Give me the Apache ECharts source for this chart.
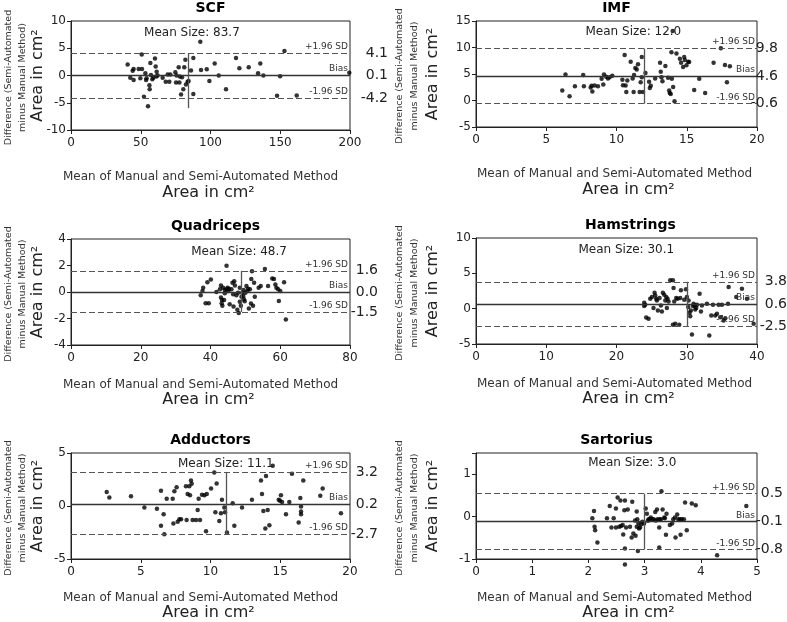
<!DOCTYPE html>
<html>
<head>
<meta charset="utf-8">
<script src="https://cdn.jsdelivr.net/npm/echarts@6/dist/echarts.min.js"></script>
<style>
html, body { margin: 0; padding: 0; background: #fff; }
#main { width: 787px; height: 622px; }
</style>
</head>
<body>
<div id="main"></div>
<script>
var FONT = '"DejaVu Sans", Verdana, sans-serif';

var titles = ['SCF', 'IMF', 'Quadriceps', 'Hamstrings', 'Adductors', 'Sartorius'];
var meanSizes = [83.7, 12.0, 48.7, 30.1, 11.1, 3.0];

// [+1.96 SD, bias, -1.96 SD]
var limitsSCF = [4.1, 0.1, -4.2];
var limitsIMF = [9.8, 4.6, -0.6];
var limitsQuad = [1.6, 0.0, -1.5];
var limitsHam = [3.8, 0.6, -2.5];
var limitsAdd = [3.2, 0.2, -2.7];
var limitsSar = [0.54, -0.12, -0.78];

// [mean of methods, difference]
var scfPoints = [[40.6,2.0],[42.5,-0.4],[44.2,0.85],[44.9,1.2],[44.9,-0.84],[48.5,1.2],[49.7,-0.5],[50.7,3.85],[50.9,1.2],[52.3,-3.9],[53.3,0.4],[53.8,-0.84],[54.2,-0.5],[55.2,-5.65],[56.2,-1.8],[56.4,-2.5],[56.9,2.3],[57.3,0.1],[58.3,-0.7],[59.0,-0.4],[60.2,3.1],[60.7,1.66],[61.4,0.7],[61.2,-0.2],[62.1,0],[65.7,-0.4],[67.9,-1.15],[69.3,0.2],[70.5,-1.15],[71.2,0.2],[74.8,0.6],[75.3,-1.3],[75.7,0],[77.2,1.5],[77.7,-1.3],[78.1,-0.2],[78.9,-3.5],[79.6,-0.3],[80.5,-2.5],[81.2,1.5],[82.0,2.9],[82.4,-1.65],[83.6,-1.15],[84.3,-1.0],[86.0,0.9],[87.7,3.2],[87.7,-3.4],[92.7,6.2],[93.2,1.0],[97.3,1.15],[99.2,-1.0],[103.0,2.2],[105.9,0],[111.1,-2.5],[118.3,3.2],[120.7,1.35],[127.4,1.5],[135.7,2.2],[134.1,0.4],[137.9,0],[147.7,-3.7],[149.9,-0.15],[153.0,4.5],[161.8,-3.65],[199.5,0.5]];

var imfPoints = [[6.14,1.87],[6.37,4.92],[6.66,0.79],[7.04,2.69],[7.63,4.79],[7.68,2.69],[8.16,2.44],[8.23,2.76],[8.28,1.68],[8.44,2.82],[8.68,2.70],[8.94,4.09],[9.06,3.02],[9.11,4.92],[9.27,4.47],[9.39,4.16],[9.51,4.41],[9.70,4.66],[10.42,3.90],[10.46,2.89],[10.58,8.59],[10.65,2.82],[10.70,1.62],[10.77,3.78],[11.01,7.33],[11.15,4.16],[11.22,1.62],[11.25,4.79],[11.34,6.12],[11.44,5.87],[11.53,6.82],[11.65,1.62],[11.72,3.46],[11.80,8.21],[11.80,4.41],[11.89,1.62],[12.06,5.17],[12.32,3.52],[12.37,2.38],[12.44,2.76],[12.75,4.16],[13.10,7.14],[13.15,5.42],[13.20,4.41],[13.27,3.65],[13.48,6.50],[13.67,4.28],[13.75,1.87],[13.79,1.43],[13.86,1.24],[13.94,4.09],[14.03,2.57],[14.13,-0.16],[13.91,9.10],[14.27,8.85],[14.51,7.90],[14.60,7.14],[14.74,6.31],[14.82,8.21],[14.86,7.64],[14.98,6.63],[15.10,7.33],[15.17,7.26],[15.53,2.0],[15.89,4.09],[16.31,1.43],[16.91,7.14],[17.43,9.86],[17.72,6.69],[17.86,3.46],[18.07,6.44],[14.0,13.1]];

var quadPoints = [[37.2,-0.25],[37.7,0.07],[37.9,0.32],[38.6,-0.84],[39.1,0.74],[39.5,-0.84],[40.1,0.94],[41.7,0],[42.7,0.2],[43.0,0.5],[43.0,-0.42],[43.2,-0.84],[43.3,-0.6],[43.4,-1.04],[43.6,0.32],[43.9,-0.6],[44.1,0.15],[44.1,-0.1],[44.6,1.99],[44.6,0.2],[44.9,0.32],[45.1,0.07],[45.3,0.25],[45.5,-0.92],[46.0,0.2],[46.3,0.7],[46.5,-0.17],[46.6,-1.09],[46.8,0.82],[47.0,0.5],[47.4,-0.25],[47.7,-1.34],[47.9,-0.05],[48.1,-1.59],[48.4,0.32],[48.4,-0.74],[48.7,-1.04],[48.9,-0.35],[49.1,-0.05],[49.4,-0.3],[49.5,0.15],[49.6,-0.55],[49.8,-0.69],[50.0,-0.05],[50.3,0.45],[50.6,0.07],[50.8,0.25],[51.0,-1.24],[51.3,0.2],[51.6,-0.87],[51.7,0.99],[51.9,1.56],[52.2,-1.04],[52.5,0.7],[52.7,-0.35],[53.8,0.32],[54.4,0.45],[55.6,1.74],[56.5,0.45],[57.7,1.02],[58.2,0.99],[58.6,0.57],[58.9,0.32],[59.4,0.2],[59.6,-0.67],[60.0,0.07],[61.1,0.74],[61.6,-2.08]];

var hamPoints = [[23.94,0.84],[23.94,0.36],[24.09,0.55],[24.23,-1.25],[24.56,-1.44],[24.80,1.41],[25.04,1.64],[25.27,0.08],[25.42,2.26],[25.51,1.88],[25.65,1.41],[25.75,1.17],[25.89,-0.25],[26.13,1.50],[26.32,0.46],[26.46,-0.40],[26.60,2.26],[26.79,1.97],[26.94,1.17],[27.08,1.64],[27.17,0.08],[27.27,1.41],[27.41,1.03],[27.65,4.01],[28.03,4.01],[28.12,2.92],[28.03,-2.29],[28.22,1.03],[28.36,-2.15],[28.50,1.50],[28.69,1.41],[28.93,-2.29],[29.07,1.50],[29.17,2.59],[29.64,1.26],[29.88,2.73],[30.02,1.64],[30.21,0.22],[30.26,1.17],[30.40,-0.58],[30.50,-1.06],[30.59,-0.25],[30.74,-3.67],[30.88,0.36],[30.97,0.69],[31.12,0.46],[31.21,-0.11],[31.35,0.08],[31.45,0.55],[31.83,2.12],[32.02,-0.40],[32.16,0.46],[32.87,0.69],[33.21,-3.81],[33.49,-0.96],[33.73,0.55],[34.06,-0.96],[34.30,-0.73],[34.54,0.55],[34.77,-1.20],[35.01,0.55],[35.25,-1.67],[35.49,-1.34],[35.87,0.69],[35.96,3.06],[37.05,1.64],[37.86,2.83],[38.57,1.41],[39.52,-2.15]];

var addPoints = [[2.56,1.33],[2.75,0.81],[4.30,0.91],[5.26,-0.14],[6.16,-0.27],[6.45,1.45],[6.45,-1.87],[6.64,-0.78],[6.69,-2.67],[6.86,0.69],[7.29,0.69],[7.34,-1.65],[7.41,1.39],[7.57,1.77],[7.65,-1.49],[7.77,-1.26],[7.89,-1.26],[8.24,1.87],[8.29,-1.33],[8.36,1.13],[8.48,1.87],[8.53,1.01],[8.60,2.41],[8.65,2.09],[8.72,-1.33],[8.96,-1.33],[9.08,-0.37],[9.15,0.69],[9.25,-1.33],[9.39,1.07],[9.56,1.01],[9.68,-2.38],[9.73,1.13],[10.04,1.65],[10.27,3.15],[10.35,-0.59],[10.44,2.12],[10.63,-1.42],[10.75,-0.69],[10.82,0.59],[10.99,-0.14],[11.04,-0.59],[11.18,-2.51],[11.59,0.27],[11.71,-1.87],[12.26,-0.14],[12.97,0.59],[13.62,2.41],[13.69,1.13],[13.79,-0.46],[13.93,-2.12],[13.98,2.83],[14.10,-0.37],[14.22,-1.81],[14.46,3.79],[14.89,0.59],[14.98,0.50],[15.05,1.01],[15.13,0.37],[15.41,-0.78],[15.65,0.37],[15.84,3.05],[16.32,-1.55],[16.44,0.75],[16.49,-0.05],[16.49,-0.53],[16.49,-0.78],[16.65,2.41],[17.87,0.97],[18.04,1.65],[19.35,-0.69]];

var sarPoints = [[2.07,-0.04],[2.10,0.13],[2.11,-0.24],[2.12,-0.32],[2.16,-0.61],[2.33,-0.04],[2.38,0.25],[2.41,-0.26],[2.45,-0.04],[2.49,-0.26],[2.49,0.19],[2.52,0.45],[2.55,-0.24],[2.57,0.38],[2.58,-0.22],[2.61,-0.20],[2.62,-0.42],[2.64,0.15],[2.65,0.38],[2.65,-0.75],[2.67,-0.26],[2.70,0.17],[2.74,-0.24],[2.77,-0.49],[2.78,0.35],[2.80,-0.40],[2.83,-0.09],[2.84,-0.45],[2.86,0.12],[2.86,-0.24],[2.87,-0.06],[2.88,-0.81],[2.89,-0.16],[2.90,-0.28],[2.92,-0.26],[2.94,-0.18],[2.96,-0.12],[2.99,-0.16],[3.02,0.19],[3.04,0.07],[3.06,-0.10],[3.07,-0.06],[3.09,-0.06],[3.11,-0.02],[3.14,-0.06],[3.16,-0.06],[3.19,0.11],[3.20,-0.09],[3.22,0.17],[3.23,-0.06],[3.26,-0.26],[3.26,-0.73],[3.27,-0.06],[3.29,-0.06],[3.30,0.60],[3.32,0.17],[3.35,-0.02],[3.36,-0.04],[3.38,-0.43],[3.39,0.07],[3.45,-0.20],[3.49,-0.16],[3.51,-0.06],[3.54,-0.02],[3.55,-0.49],[3.58,0.05],[3.60,-0.06],[3.63,-0.06],[3.64,-0.43],[3.66,-0.06],[3.70,-0.06],[3.72,0.33],[3.75,-0.32],[3.84,0.31],[3.91,0.27],[4.29,-0.91],[4.81,0.25],[2.65,-1.13]];

// layout of each panel
var panels = [
	{ pts: scfPoints,  lim: limitsSCF,  grid: [71, 21, 279, 109],  x: [0, 200, 50], y: [-10, 10, 5],  vBottom: -6,   meanAt: [86.7, 7.8],  valRight: 38 },
	{ pts: imfPoints,  lim: limitsIMF,  grid: [476, 21, 281, 106], x: [0, 20, 5],   y: [-5, 15, 5],   vBottom: null, meanAt: [11.2, 12.9], valRight: 21 },
	{ pts: quadPoints, lim: limitsQuad, grid: [71, 239, 279, 106], x: [0, 80, 20],  y: [-4, 4, 2],    vBottom: null, meanAt: [48.2, 3.0],  valRight: 28 },
	{ pts: hamPoints,  lim: limitsHam,  grid: [476, 238, 281, 106],x: [0, 40, 10],  y: [-5, 10, 5],   vBottom: null, meanAt: [21.4, 8.3],  valRight: 30 },
	{ pts: addPoints,  lim: limitsAdd,  grid: [71, 453, 279, 106], x: [0, 20, 5],   y: [-5, 5, 5],    vBottom: null, meanAt: [11.1, 3.96], valRight: 28 },
	{ pts: sarPoints,  lim: limitsSar,  grid: [476, 453, 281, 106],x: [0, 5, 1],    y: [-1, 1.5, 1],  vBottom: null, meanAt: [2.78, 1.26], valRight: 26 }
];
// distance from plot bottom to the two lines of the x name, per row
var xNameGap = [[47, 63], [40, 55], [39, 54]];

var grids = [], xAxes = [], yAxes = [], series = [], graphics = [];

function sdLabel(txt) {
	return { show: true, position: 'insideEndTop', distance: 2, formatter: txt,
		fontSize: 9, color: '#333', fontFamily: FONT };
}
function valueLabel(v, d) {
	return { show: true, position: 'end', align: 'right', distance: d,
		formatter: v.toFixed(1), fontSize: 14, color: '#222', fontFamily: FONT };
}

panels.forEach(function (p, i) {
	var g = p.grid;
	grids.push({ left: g[0], top: g[1], width: g[2], height: g[3], show: true,
		borderColor: '#222', borderWidth: 1, backgroundColor: 'transparent' });
	xAxes.push({
		gridIndex: i, type: 'value', min: p.x[0], max: p.x[1], interval: p.x[2],
		axisLine: { show: true, onZero: false, lineStyle: { color: '#222' } },
		axisTick: { show: true, length: 4, lineStyle: { color: '#222' } },
		axisLabel: { color: '#222', fontSize: 12, fontFamily: FONT, margin: 7 },
		splitLine: { show: false }
	});
	yAxes.push({
		gridIndex: i, type: 'value', min: p.y[0], max: p.y[1], interval: p.y[2],
		axisLine: { show: true, onZero: false, lineStyle: { color: '#222' } },
		axisTick: { show: true, length: 4, lineStyle: { color: '#222' } },
		axisLabel: { color: '#222', fontSize: 12, fontFamily: FONT, margin: 5,
			formatter: function (v) { return (Math.abs(v % p.y[2]) < 1e-9) ? String(v) : ''; } },
		splitLine: { show: false }
	});

	var hi = p.lim[0], bias = p.lim[1], lo = p.lim[2];
	var mean = meanSizes[i];
	var dashed = { type: [6, 3], color: '#555', width: 1.2 };
	var hidden = { color: 'rgba(0,0,0,0)', width: 0 };

	series.push({
		type: 'scatter', xAxisIndex: i, yAxisIndex: i, clip: false,
		symbolSize: 4.5, itemStyle: { color: '#000' },
		data: p.pts,
		markLine: {
			silent: true, symbol: ['none', 'none'], animation: false,
			data: [
				{ yAxis: hi, lineStyle: dashed, label: sdLabel('+1.96 SD') },
				{ yAxis: bias, lineStyle: { type: 'solid', color: '#333', width: 1.3 }, label: sdLabel('Bias') },
				{ yAxis: lo, lineStyle: dashed, label: sdLabel('-1.96 SD') },
				{ yAxis: hi, lineStyle: hidden, label: valueLabel(hi, p.valRight) },
				{ yAxis: bias, lineStyle: hidden, label: valueLabel(bias, p.valRight) },
				{ yAxis: lo, lineStyle: hidden, label: valueLabel(lo, p.valRight) },
				[
					{ coord: [mean, hi], lineStyle: { type: 'solid', color: '#555', width: 1.3 }, label: { show: false } },
					{ coord: [mean, p.vBottom === null ? lo : p.vBottom] }
				]
			]
		},
		markPoint: {
			silent: true, animation: false,
			symbol: 'rect', symbolSize: 1, itemStyle: { color: 'transparent' },
			label: { show: true, position: 'inside', color: '#222', fontSize: 12, fontFamily: FONT,
				formatter: 'Mean Size: ' + mean.toFixed(1) },
			data: [{ coord: p.meanAt }]
		}
	});

	// panel title and axis names
	var left = i % 2 === 0;
	var row = Math.floor(i / 2);
	var cx = g[0] + g[2] / 2;
	var cy = g[1] + g[3] / 2;
	var bottom = g[1] + g[3];
	graphics.push({ type: 'text', x: cx + (i === 3 ? 14 : (i === 2 ? 5 : 0)), y: g[1] - 13,
		style: { text: titles[i], font: 'bold 14px ' + FONT, fill: '#000', align: 'center', verticalAlign: 'middle' } });
	graphics.push({ type: 'text', x: cx - (left ? 10 : 2), y: bottom + xNameGap[row][0],
		style: { text: 'Mean of Manual and Semi-Automated Method', font: '12px ' + FONT, fill: '#333', align: 'center', verticalAlign: 'middle' } });
	graphics.push({ type: 'text', x: cx - (left ? 2 : -12), y: bottom + xNameGap[row][1],
		style: { text: 'Area in cm²', font: '16px ' + FONT, fill: '#222', align: 'center', verticalAlign: 'middle' } });
	var lx = left ? [9, 23, 38] : [400, 415, 433];
	graphics.push({ type: 'text', x: lx[0], y: cy + 2, rotation: Math.PI / 2,
		style: { text: 'Difference (Semi-Automated', font: '9.5px ' + FONT, fill: '#333', align: 'center', verticalAlign: 'middle' } });
	graphics.push({ type: 'text', x: lx[1], y: cy + 2, rotation: Math.PI / 2,
		style: { text: 'minus Manual Method)', font: '9.5px ' + FONT, fill: '#333', align: 'center', verticalAlign: 'middle' } });
	graphics.push({ type: 'text', x: lx[2], y: cy, rotation: Math.PI / 2,
		style: { text: 'Area in cm²', font: '16px ' + FONT, fill: '#222', align: 'center', verticalAlign: 'middle' } });
});

var chart = echarts.init(document.getElementById('main'));
chart.setOption({
	animation: false,
	backgroundColor: '#fff',
	textStyle: { fontFamily: FONT },
	grid: grids,
	xAxis: xAxes,
	yAxis: yAxes,
	series: series,
	graphic: graphics
});
</script>
</body>
</html>
